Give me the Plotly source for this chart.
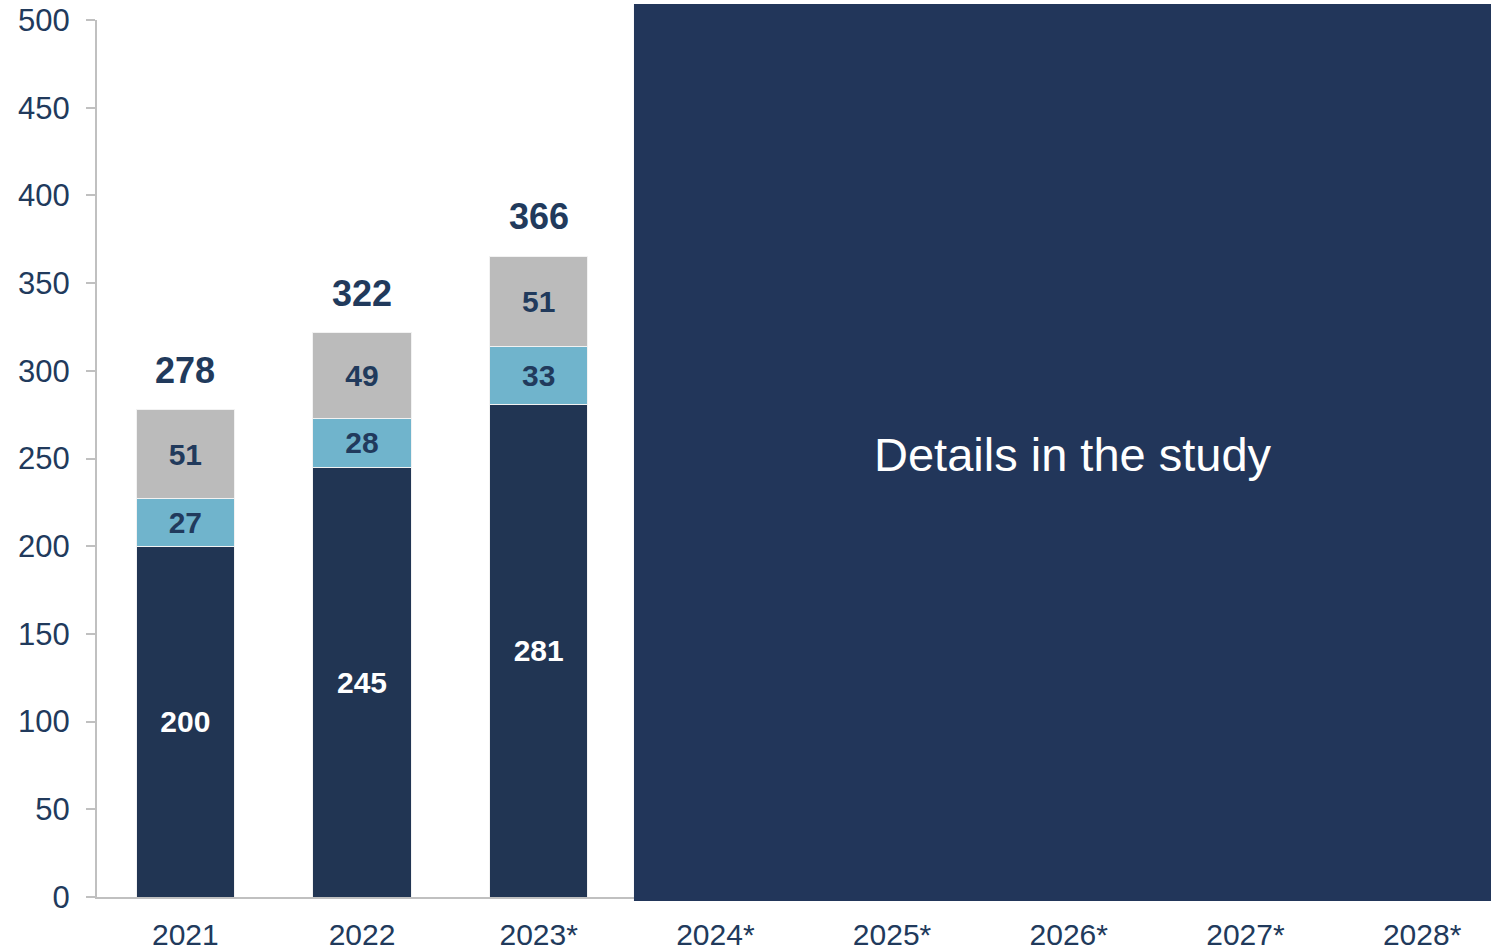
import plotly.graph_objects as go

# Categories and stacked segment values
years = ["2021", "2022", "2023*", "2024*", "2025*", "2026*", "2027*", "2028*"]
bar_years = ["2021", "2022", "2023*"]
seg_base = [200, 245, 281]
seg_mid = [27, 28, 33]
seg_top = [51, 49, 51]
totals = [278, 322, 366]
y_ticks = [0, 50, 100, 150, 200, 250, 300, 350, 400, 450, 500]

NAVY = "#213553"
BLUE = "#70B4CC"
GREY = "#BBBBBB"
TEXT = "#213A5C"
FONT = "Liberation Sans, Arial, Helvetica, sans-serif"

fig = go.Figure()

for vals, color, txtcolor in [
    (seg_base, NAVY, "white"),
    (seg_mid, BLUE, TEXT),
    (seg_top, GREY, TEXT),
]:
    fig.add_trace(go.Bar(
        x=bar_years, y=vals,
        marker=dict(color=color, line=dict(color="#F2F2F2", width=1)),
        text=[str(v) for v in vals],
        textposition="inside",
        insidetextanchor="middle",
        textangle=0,
        textfont=dict(family=FONT, size=30, color=txtcolor, weight="bold"),
        hoverinfo="skip",
    ))

# Totals above each stack (category index used as x position)
for i, tot in enumerate(totals):
    fig.add_annotation(
        x=i, y=tot, text=f"<b>{tot}</b>", showarrow=False,
        xanchor="center", yanchor="middle", yshift=39,
        font=dict(family=FONT, size=36, color=TEXT),
    )

# Panel covering the forecast years
fig.add_shape(
    type="rect", xref="paper", yref="paper",
    x0=0.3852, x1=1.01, y0=-0.0046, y1=1.0182,
    fillcolor="#22365A", line=dict(width=0), layer="above",
)
fig.add_annotation(
    xref="paper", yref="paper", x=0.6998, y=0.5045,
    xanchor="center", yanchor="middle",
    text="Details in the study", showarrow=False,
    font=dict(family=FONT, size=47, color="white"),
)

fig.update_layout(
    width=1491, height=950,
    margin=dict(l=97, r=0, t=20, b=53),
    barmode="stack", bargap=0.445,
    showlegend=False,
    plot_bgcolor="white", paper_bgcolor="white",
    font=dict(family=FONT, color=TEXT),
)
fig.update_xaxes(
    type="category", categoryorder="array", categoryarray=years,
    range=[-0.5, 7.39],
    showline=True, linecolor="#C0C0C0", linewidth=2,
    ticks="", showgrid=False, zeroline=False,
    ticklabelstandoff=10,
    tickfont=dict(family=FONT, size=30, color=TEXT),
)
fig.update_yaxes(
    range=[0, 500], tickvals=y_ticks,
    showline=True, linecolor="#C0C0C0", linewidth=2,
    ticks="outside", ticklen=9, tickcolor="#C0C0C0", tickwidth=2,
    showgrid=False, zeroline=False,
    ticklabelstandoff=10,
    tickfont=dict(family=FONT, size=31, color=TEXT),
)

fig.write_html("out.html")
